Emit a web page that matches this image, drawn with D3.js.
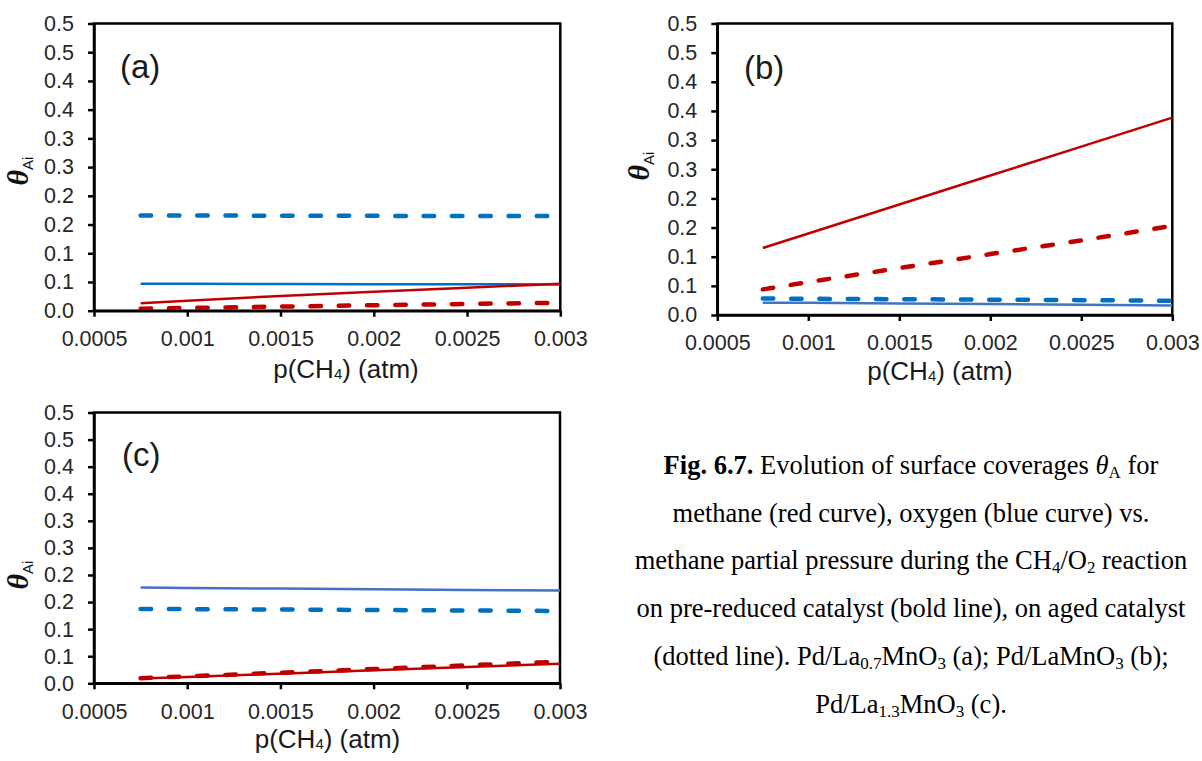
<!DOCTYPE html>
<html><head><meta charset="utf-8">
<script src="https://cdn.jsdelivr.net/npm/d3@7"></script>
<style>body{margin:0;background:#fff} svg{display:block}</style>
</head><body>
<svg id="chart" width="1202" height="761"></svg>
<script>
// ---------- data ----------
const pCH4 = [0.00075, 0.001, 0.0015, 0.002, 0.0025, 0.003];
const xTickValues = [0.0005, 0.001, 0.0015, 0.002, 0.0025, 0.003];
const xTickLabels = ["0.0005", "0.001", "0.0015", "0.002", "0.0025", "0.003"];
const yTickValues = [0, 0.05, 0.1, 0.15, 0.2, 0.25, 0.3, 0.35, 0.4, 0.45, 0.5];
const yTickLabels = ["0.0", "0.1", "0.1", "0.2", "0.2", "0.3", "0.3", "0.4", "0.4", "0.5", "0.5"];
const panelNames = ["(a)", "(b)", "(c)"];

// (a) Pd/La0.7MnO3
const aMethaneReduced = [0.0129, 0.0175, 0.0255, 0.0328, 0.0400, 0.0470];
const aMethaneAged    = [0.0035, 0.0048, 0.0072, 0.0095, 0.0118, 0.0139];
const aOxygenReduced  = [0.0470, 0.0468, 0.0465, 0.0462, 0.0460, 0.0458];
const aOxygenAged     = [0.1659, 0.1657, 0.1654, 0.1651, 0.1649, 0.1647];
// (b) Pd/LaMnO3
const bMethaneReduced = [0.1150, 0.1398, 0.1895, 0.2392, 0.2888, 0.3385];
const bMethaneAged    = [0.0440, 0.0565, 0.0805, 0.1045, 0.1280, 0.1529];
const bOxygenReduced  = [0.0212, 0.0208, 0.0198, 0.0187, 0.0175, 0.0162];
const bOxygenAged     = [0.0282, 0.0278, 0.0271, 0.0263, 0.0255, 0.0245];
// (c) Pd/La1.3MnO3
const cMethaneReduced = [0.0088, 0.0118, 0.0178, 0.0240, 0.0301, 0.0360];
const cMethaneAged    = [0.0095, 0.0128, 0.0195, 0.0263, 0.0331, 0.0399];
const cOxygenReduced  = [0.1767, 0.1761, 0.1749, 0.1736, 0.1724, 0.1712];
const cOxygenAged     = [0.1374, 0.1370, 0.1362, 0.1353, 0.1345, 0.1336];

const captionLines = [
  [{t:"Fig. 6.7.", b:true}, {t:" Evolution of surface coverages "}, {t:"θ", i:true}, {t:"A", sub:true}, {t:" for"}],
  [{t:"methane (red curve), oxygen (blue curve) vs."}],
  [{t:"methane partial pressure during the CH"}, {t:"4", sub:true}, {t:"/O"}, {t:"2", sub:true}, {t:" reaction"}],
  [{t:"on pre-reduced catalyst (bold line), on aged catalyst"}],
  [{t:"(dotted line). Pd/La"}, {t:"0.7", sub:true}, {t:"MnO"}, {t:"3", sub:true}, {t:" (a); Pd/LaMnO"}, {t:"3", sub:true}, {t:" (b);"}],
  [{t:"Pd/La"}, {t:"1.3", sub:true}, {t:"MnO"}, {t:"3", sub:true}, {t:" (c)."}]
];

// ---------- layout ----------
const RED = "#C00000", BLUE = "#0070C0", BLUE2 = "#4472C4";
const panels = [
  {name: panelNames[0], l: 94, r: 560.3, t: 23.5, b: 310.7, lx: 120, ly: 78, tx: 346, ty: 378, yx: 22, yy: 171, oxSolid: BLUE,
   series: [aOxygenAged, aOxygenReduced, aMethaneReduced, aMethaneAged]},
  {name: panelNames[1], l: 717.3, r: 1172.3, t: 23.5, b: 315, lx: 744, ly: 79, tx: 940, ty: 380, yx: 643, yy: 166, oxSolid: BLUE2,
   series: [bOxygenAged, bOxygenReduced, bMethaneReduced, bMethaneAged]},
  {name: panelNames[2], l: 94, r: 560, t: 412.5, b: 683.3, lx: 122, ly: 466, tx: 327.5, ty: 748, yx: 22, yy: 575, oxSolid: BLUE2,
   series: [cOxygenAged, cOxygenReduced, cMethaneReduced, cMethaneAged]}
];

const svg = d3.select("#chart");
const SANS = "'Liberation Sans', Arial, sans-serif";
const SERIF = "'Liberation Serif', 'Times New Roman', serif";

panels.forEach(p => {
  const x = d3.scaleLinear().domain([0.0005, 0.003]).range([p.l, p.r]);
  const y = d3.scaleLinear().domain([0, 0.5]).range([p.b, p.t]);
  const g = svg.append("g");

  // frame
  g.append("rect").attr("x", p.l).attr("y", p.t).attr("width", p.r - p.l).attr("height", p.b - p.t)
    .attr("fill", "none").attr("stroke", "#000").attr("stroke-width", 2.5);

  const styles = [
    {color: BLUE, w: 4.5, dash: "10.5,17.8"},
    {color: p.oxSolid, w: 2.5, dash: null},
    {color: RED, w: 2.5, dash: null},
    {color: RED, w: 4.5, dash: "10.5,17.8"}
  ];
  const line = d3.line().x((d, i) => x(pCH4[i])).y(d => y(d));
  p.series.forEach((s, k) => {
    const st = styles[k];
    g.append("path").datum(s).attr("d", line).attr("fill", "none")
      .attr("stroke", st.color).attr("stroke-width", st.w)
      .attr("stroke-linecap", st.dash ? "round" : "butt")
      .attr("stroke-dasharray", st.dash);
  });

  // axes
  const yAxis = d3.axisLeft(y).tickValues(yTickValues).tickFormat((d, i) => yTickLabels[i])
    .tickSize(6).tickSizeOuter(0).tickPadding(14);
  const ya = g.append("g").attr("transform", `translate(${p.l},0)`).call(yAxis);
  const xAxis = d3.axisBottom(x).tickValues(xTickValues).tickFormat((d, i) => xTickLabels[i])
    .tickSize(6).tickSizeOuter(0).tickPadding(14);
  const xa = g.append("g").attr("transform", `translate(0,${p.b})`).call(xAxis);
  [ya, xa].forEach(a => {
    a.select(".domain").attr("stroke", "#000").attr("stroke-width", 2.5);
    a.selectAll(".tick line").attr("stroke", "#000").attr("stroke-width", 2.5);
    a.selectAll(".tick text").attr("font-family", SANS).attr("font-size", 21.5).attr("fill", "#262626");
  });

  // panel label
  g.append("text").attr("x", p.lx).attr("y", p.ly).attr("font-family", SANS).attr("font-size", 33)
    .attr("fill", "#1a1a1a").text(p.name);

  // x-axis title
  const xt = g.append("text").attr("x", p.tx).attr("y", p.ty).attr("text-anchor", "middle")
    .attr("font-family", SANS).attr("font-size", 26).attr("fill", "#1a1a1a");
  xt.append("tspan").text("p(CH");
  xt.append("tspan").attr("font-size", 15).attr("baseline-shift", "-1").text("4");
  xt.append("tspan").text(") (atm)");

  // y-axis title
  const yt = g.append("text").attr("transform", `translate(${p.yx},${p.yy}) rotate(-90)`)
    .attr("text-anchor", "middle").attr("dy", "0.35em").attr("fill", "#111");
  yt.append("tspan").attr("font-family", SERIF).attr("font-style", "italic").attr("font-weight", "bold")
    .attr("font-size", 30).text("θ");
  yt.append("tspan").attr("font-family", SANS).attr("font-size", 15).attr("baseline-shift", "-5").text("Ai");
});

// caption
const capX = 911, capY0 = 474, capDy = 47.7;
captionLines.forEach((segs, li) => {
  const t = svg.append("text").attr("x", capX).attr("y", capY0 + li * capDy).attr("text-anchor", "middle")
    .attr("font-family", SERIF).attr("font-size", 26.5).attr("fill", "#000");
  segs.forEach(s => {
    const ts = t.append("tspan").text(s.t);
    if (s.b) ts.attr("font-weight", "bold");
    if (s.i) ts.attr("font-style", "italic");
    if (s.sub) ts.attr("font-size", 17).attr("baseline-shift", "-4");
  });
});
</script>
</body></html>
